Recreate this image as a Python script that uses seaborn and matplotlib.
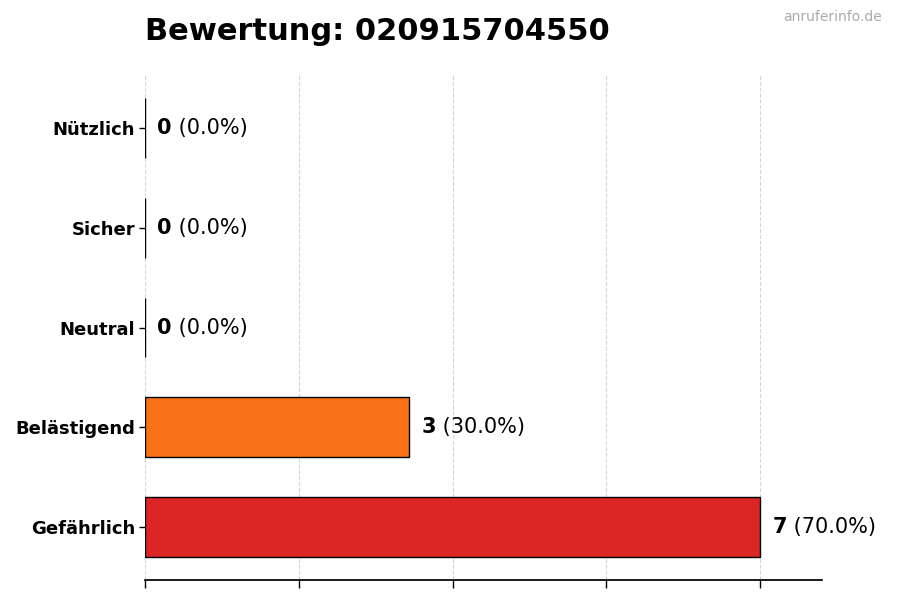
import matplotlib
matplotlib.use("Agg")
import matplotlib.pyplot as plt
import seaborn as sns
import numpy as np
import pandas as pd

categories = ["Nützlich", "Sicher", "Neutral", "Belästigend", "Gefährlich"]
values = [0, 0, 0, 3, 7]
colors = ["#22c55e", "#3b82f6", "#9ca3af", "#f97316", "#dc2626"]
title = "Bewertung: 020915704550"
watermark = "anruferinfo.de"

sns.set_theme(style="white")
plt.rcParams['font.family'] = ['DejaVu Sans']
plt.rcParams['text.color'] = 'black'
plt.rcParams['xtick.color'] = 'black'
plt.rcParams['ytick.color'] = 'black'

df = pd.DataFrame({"cat": categories, "val": values})
total = sum(values)

fig = plt.figure(figsize=(9, 6), dpi=100)
ax = fig.add_axes([0.161, 0.0333, 0.752, 0.8417])

sns.barplot(data=df, y="cat", x="val", hue="cat", palette=colors, order=categories,
            hue_order=categories, orient="h", width=0.6, edgecolor="black",
            linewidth=1, legend=False, ax=ax, saturation=1)

maxv = max(values)
ax.set_xlim(0, maxv * 1.1)
ax.set_ylim(len(categories) - 1 + 0.53, -0.53)
ax.set_xticks(np.linspace(0, maxv, 5))
ax.set_xticklabels([])
ax.set_xlabel("")
ax.set_ylabel("")
ax.grid(axis="x", linestyle="--", color="#cccccc", linewidth=0.8, alpha=0.8)
ax.set_axisbelow(True)
for s in ["top", "right", "left"]:
    ax.spines[s].set_visible(False)
ax.spines["bottom"].set_color("black")
ax.tick_params(axis="x", bottom=True, length=6, width=1, color="black")
ax.tick_params(axis="y", left=True, length=4, width=1, color="black", pad=3, labelcolor="black")
for lbl in ax.get_yticklabels():
    lbl.set_fontweight("bold")
    lbl.set_fontsize(13)

for i, (c, v) in enumerate(zip(categories, values)):
    pct = v / total * 100 if total else 0
    t = ax.annotate(f"{v}", xy=(v, i), xytext=(9, 0), textcoords="offset points",
                    va="center", ha="left", fontsize=15, fontweight="bold", color="black")
    ax.annotate(f" ({pct:.1f}%)", xy=(1, 0.5), xycoords=t, va="center", ha="left",
                fontsize=15, color="black")

fig.text(0.161, 0.947, title, fontsize=22, fontweight="bold", ha="left", va="center", color="black")
fig.text(0.98, 0.971, watermark, fontsize=10, color="#aaaaaa", ha="right", va="center")

fig.savefig("out.png", dpi=100)
